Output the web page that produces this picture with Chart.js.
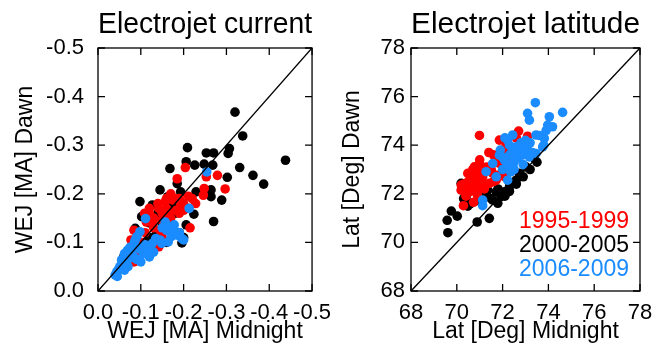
<!DOCTYPE html>
<html>
<head>
<meta charset="utf-8">
<script src="https://cdn.jsdelivr.net/npm/chart.js@4"></script>
<style>
  html, body { margin: 0; padding: 0; background: #fff; }
  body { width: 665px; height: 352px; position: relative; overflow: hidden; }
  canvas { position: absolute; top: 0; }
  #cur { left: 0; }
  #lat { left: 330px; }
</style>
</head>
<body>
<canvas id="cur" width="340" height="352"></canvas>
<canvas id="lat" width="335" height="352"></canvas>
<script>
// Electrojet dawn vs midnight, by period. [midnight, dawn]
const wejTicks = [0, -0.1, -0.2, -0.3, -0.4, -0.5];
const latTicks = [68, 70, 72, 74, 76, 78];
const periods = ['1995-1999', '2000-2005', '2006-2009'];
const colors = ['#FF0000', '#000000', '#1A8CFF'];

const wej9599 = [
  [-0.204,-0.254],[-0.185,-0.231],[-0.279,-0.238],[-0.253,-0.235],[-0.248,-0.211],[-0.246,-0.197],
  [-0.297,-0.210],[-0.211,-0.195],[-0.228,-0.180],[-0.215,-0.130],[-0.157,-0.184],[-0.175,-0.187],
  [-0.193,-0.177],[-0.200,-0.166],[-0.182,-0.166],[-0.164,-0.160],[-0.142,-0.170],[-0.120,-0.160],
  [-0.109,-0.160],[-0.113,-0.142],[-0.127,-0.139],[-0.149,-0.146],[-0.164,-0.136],[-0.156,-0.125],
  [-0.171,-0.119],[-0.084,-0.125],[-0.077,-0.105],[-0.135,-0.105],[-0.142,-0.091],[-0.084,-0.060],
  [-0.087,-0.077],[-0.190,-0.190],[-0.170,-0.200],[-0.130,-0.150],[-0.100,-0.100],
  [-0.180,-0.190],[-0.200,-0.180],[-0.210,-0.170],[-0.160,-0.170],[-0.150,-0.160],[-0.190,-0.160],
  [-0.170,-0.150],[-0.140,-0.180],[-0.120,-0.170],[-0.220,-0.190],[-0.160,-0.190],[-0.130,-0.130],
  [-0.145,-0.125],[-0.110,-0.120],[-0.095,-0.080],[-0.105,-0.095],[-0.150,-0.110]
];
const wej0005 = [
  [-0.320,-0.368],[-0.338,-0.319],[-0.438,-0.269],[-0.209,-0.295],[-0.253,-0.284],[-0.270,-0.284],
  [-0.307,-0.293],[-0.304,-0.283],[-0.206,-0.266],[-0.226,-0.259],[-0.248,-0.261],[-0.268,-0.259],
  [-0.168,-0.252],[-0.331,-0.254],[-0.362,-0.238],[-0.387,-0.220],[-0.302,-0.234],[-0.145,-0.208],
  [-0.185,-0.221],[-0.193,-0.204],[-0.264,-0.194],[-0.289,-0.187],[-0.098,-0.184],[-0.127,-0.177],
  [-0.229,-0.204],[-0.264,-0.208],[-0.270,-0.143],[-0.224,-0.158],[-0.102,-0.153],[-0.087,-0.129],
  [-0.196,-0.099],[-0.206,-0.136],[-0.135,-0.115],[-0.163,-0.194],[-0.175,-0.180],[-0.060,-0.070],
  [-0.080,-0.090],[-0.120,-0.110],
  [-0.170,-0.170],[-0.180,-0.160],[-0.140,-0.160],[-0.120,-0.140],[-0.150,-0.140],[-0.190,-0.120],
  [-0.200,-0.110],[-0.170,-0.130],[-0.110,-0.100],[-0.090,-0.095],[-0.160,-0.100]
];
const wej0609 = [
  [-0.254,-0.245],[-0.213,-0.170],[-0.111,-0.149],[-0.157,-0.142],[-0.167,-0.132],[-0.178,-0.136],
  [-0.182,-0.122],[-0.171,-0.112],[-0.164,-0.101],[-0.196,-0.108],[-0.200,-0.105],[-0.098,-0.122],
  [-0.091,-0.112],[-0.087,-0.105],[-0.135,-0.108],[-0.127,-0.098],[-0.117,-0.084],[-0.120,-0.070],
  [-0.106,-0.077],[-0.095,-0.088],[-0.069,-0.084],[-0.062,-0.077],[-0.055,-0.064],[-0.066,-0.057],
  [-0.051,-0.050],[-0.044,-0.040],[-0.040,-0.033],[-0.062,-0.043],[-0.073,-0.067],[-0.084,-0.070],
  [-0.149,-0.098],
  [-0.160,-0.125],[-0.175,-0.115],[-0.185,-0.115],[-0.190,-0.120],[-0.150,-0.130],[-0.145,-0.105],
  [-0.120,-0.090],[-0.110,-0.095],[-0.100,-0.085],[-0.080,-0.075],[-0.075,-0.090],[-0.085,-0.100],
  [-0.065,-0.070],[-0.055,-0.055],[-0.048,-0.045],[-0.045,-0.030],[-0.130,-0.080],[-0.100,-0.060],
  [-0.070,-0.050],[-0.090,-0.065]
];

const lat9599 = [
  [70.99,74.40],[70.29,71.51],[70.73,71.65],[70.19,72.36],[70.33,72.29],[70.70,72.43],[70.85,72.56],
  [71.13,72.70],[70.77,73.11],[70.99,73.25],[71.28,72.98],[71.57,72.84],[71.86,73.25],[72.15,73.52],
  [72.00,73.80],[71.86,74.21],[72.15,74.07],[72.70,74.58],[73.09,74.37],[70.48,72.84],[71.42,72.43],
  [71.72,72.56],[72.30,72.98],[70.99,72.29],[70.19,72.15],[70.55,72.08],[70.60,72.60],[71.00,72.80],
  [70.40,72.10],[70.60,72.30],[70.80,72.20],[71.00,72.50],[71.20,72.40],[70.50,72.50],[70.90,72.70],
  [71.10,73.00],[71.30,73.10],[71.50,73.00],[70.70,73.00],[71.00,73.40],[71.60,73.60],[71.80,73.50],
  [71.40,73.70],[72.00,73.20],[72.30,73.40],[70.30,72.40],[70.40,71.90],[70.90,71.95],[71.20,72.20],
  [71.60,72.50],[71.90,72.80],[72.10,72.70],[70.60,72.70],[71.20,72.90],[72.40,73.80],[72.60,74.30]
];
const lat0005 = [
  [69.61,70.40],[69.58,70.91],[69.76,71.29],[70.02,71.08],[70.89,70.84],[71.42,70.99],[70.48,71.49],
  [70.41,71.88],[70.55,72.29],[70.99,72.02],[71.79,71.61],[71.93,71.88],[72.08,72.08],[72.30,72.29],
  [72.59,72.56],[72.73,72.84],[73.02,73.11],[73.39,73.46],[71.72,72.08],[71.35,72.15],[71.57,71.74],
  [70.19,72.43],[70.77,72.22],
  [71.00,71.70],[71.20,71.90],[71.50,71.80],[72.10,71.90],[72.30,72.10],[72.60,72.40],[72.90,72.70],
  [73.20,73.00],[73.50,73.30],[71.80,72.20],[70.30,71.80],[70.60,71.60]
];
const lat0609 = [
  [73.43,75.75],[74.62,75.35],[73.09,75.31],[73.17,75.03],[74.04,75.17],[73.97,74.83],[74.18,74.76],
  [73.46,74.42],[73.82,74.28],[73.75,73.93],[72.22,74.21],[72.44,74.42],[72.59,73.93],[71.86,73.59],
  [72.30,73.59],[72.73,73.66],[73.17,73.52],[71.57,73.25],[71.28,72.91],[71.72,72.70],[72.44,73.11],
  [72.08,73.39],[72.88,73.93],[72.22,72.56],[71.13,71.74],[71.13,71.51],[73.46,73.66],
  [72.00,73.00],[72.20,73.20],[72.50,73.30],[72.70,73.50],[72.90,73.60],[73.10,73.80],[72.40,73.70],
  [72.60,73.90],[72.80,74.10],[73.00,74.20],[72.30,74.00],[73.30,73.70],[72.00,73.50],[71.90,73.80],
  [72.10,74.30],[73.60,74.40],[73.90,74.60],[73.80,74.00],[73.20,74.10],[72.50,73.00],[72.90,73.20],
  [72.35,72.90]
];

const FONT = '"Liberation Sans", Arial, Helvetica, sans-serif';
const pts = (a) => a.map(([x, y]) => ({ x, y }));

// box frame + inward ticks on all four sides, optional period legend
const frame = {
  id: 'frame',
  afterDatasetsDraw(c) {
    const { ctx, chartArea: a, scales: { x, y } } = c;
    ctx.save();
    ctx.strokeStyle = '#000'; ctx.lineWidth = 1.3;
    ctx.strokeRect(a.left, a.top, a.width, a.height);
    ctx.beginPath();
    for (const t of x.ticks) {
      const p = x.getPixelForValue(t.value);
      ctx.moveTo(p, a.bottom); ctx.lineTo(p, a.bottom - 7);
      ctx.moveTo(p, a.top); ctx.lineTo(p, a.top + 7);
    }
    for (const t of y.ticks) {
      const p = y.getPixelForValue(t.value);
      ctx.moveTo(a.left, p); ctx.lineTo(a.left + 7, p);
      ctx.moveTo(a.right, p); ctx.lineTo(a.right - 7, p);
    }
    ctx.stroke();
    if (c.options.plugins.frame && c.options.plugins.frame.legend) {
      ctx.font = '23px ' + FONT;
      ctx.textAlign = 'right'; ctx.textBaseline = 'middle';
      periods.forEach((p, i) => {
        ctx.fillStyle = colors[i];
        ctx.fillText(p, a.right - 11, a.bottom - 69 + i * 24);
      });
    }
    ctx.restore();
  }
};

function makeChart(id, o) {
  const series = [
    { label: periods[1], data: pts(o.d[1]), backgroundColor: colors[1], order: 3 },
    { label: periods[0], data: pts(o.d[0]), backgroundColor: colors[0], order: 2 },
    { label: periods[2], data: pts(o.d[2]), backgroundColor: colors[2], order: 1 },
  ].map((s) => Object.assign(s, { pointRadius: 4.8, pointHoverRadius: 4.8, borderWidth: 0 }));
  series.push({
    type: 'line', data: [{ x: o.min, y: o.min }, { x: o.max, y: o.max }],
    borderColor: '#000', borderWidth: 1.4, pointRadius: 0, order: 0, showLine: true,
  });
  const axis = (title, pad, ticksPad, fit) => ({
    type: 'linear', min: o.min, max: o.max, reverse: o.reverse,
    afterBuildTicks: (s) => { s.ticks = o.ticks.map((v) => ({ value: v })); },
    afterFit: fit,
    grid: { display: false, drawTicks: false },
    border: { display: false },
    ticks: {
      color: '#000', padding: ticksPad, autoSkip: false, maxRotation: 0, minRotation: 0,
      font: { family: FONT, size: 22 }, callback: (v) => o.fmt(v),
    },
    title: { display: true, text: title, color: '#000', padding: pad, font: { family: FONT, size: 23 } },
  });
  return new Chart(document.getElementById(id), {
    type: 'scatter',
    data: { datasets: series },
    options: {
      responsive: false, animation: false, events: [],
      layout: { padding: { right: o.padRight, left: 0, top: 0, bottom: 0 } },
      plugins: {
        legend: { display: false }, tooltip: { enabled: false },
        frame: { legend: o.legend },
        title: { display: true, text: o.title, color: '#000', fullSize: false, padding: { top: 10, bottom: 8 }, font: { family: FONT, size: 30, weight: 'normal', lineHeight: 1.0 } },
      },
      scales: {
        x: axis(o.xTitle, { top: 0, bottom: 7 }, 9, (s) => { s.height = 61; }),
        y: axis(o.yTitle, { top: o.yTitlePad, bottom: o.yTitlePad }, o.yTickPad, (s) => { s.width = o.yWidth; }),
      },
    },
    plugins: [frame],
  });
}

makeChart('cur', {
  d: [wej9599, wej0005, wej0609], min: -0.5, max: 0, reverse: true, ticks: wejTicks,
  fmt: (v) => (v === 0 ? '0.0' : v.toFixed(1)),
  title: 'Electrojet current', xTitle: 'WEJ [MA] Midnight', yTitle: 'WEJ [MA] Dawn',
  yWidth: 98, padRight: 12, yTitlePad: 12, yTickPad: 14, legend: false,
});
makeChart('lat', {
  d: [lat9599, lat0005, lat0609], min: 68, max: 78, reverse: false, ticks: latTicks,
  fmt: (v) => String(v),
  title: 'Electrojet latitude', xTitle: 'Lat [Deg] Midnight', yTitle: 'Lat [Deg] Dawn',
  yWidth: 81, padRight: 25, yTitlePad: 9, yTickPad: 6, legend: true,
});
</script>
</body>
</html>
